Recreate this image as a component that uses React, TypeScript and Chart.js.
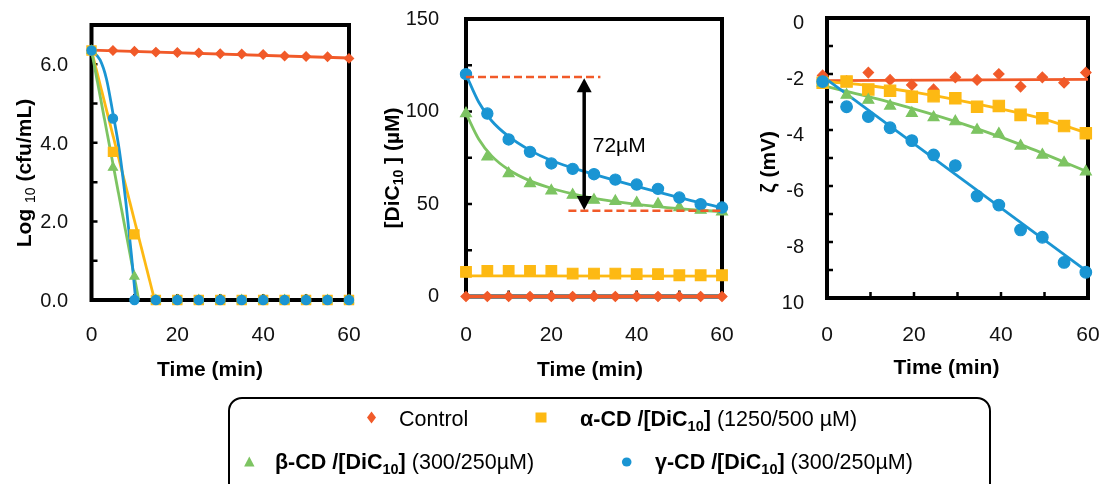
import React, { useEffect, useRef } from "react";
import { Chart, registerables } from "chart.js";

Chart.register(...registerables);

const FONT = '"Liberation Sans", Arial, Helvetica, sans-serif';
const RED = "#F15A29";
const YELLOW = "#FDB913";
const GREEN = "#7DC462";
const BLUE = "#1A95D3";

// ---------- Panel A : Log10 (cfu/mL) ----------
const timeA = [0, 5, 10, 15, 20, 25, 30, 35, 40, 45, 50, 55, 60];
const logControl = [6.35, 6.35, 6.33, 6.31, 6.3, 6.29, 6.27, 6.26, 6.25, 6.21, 6.2, 6.19, 6.15];
const logAlpha = [6.35, 3.77, 1.67, 0, 0, 0, 0, 0, 0, 0, 0, 0, 0];
const logBeta = [6.35, 3.37, 0.6, 0, 0, 0, 0, 0, 0, 0, 0, 0, 0];
const logGamma = [6.35, 4.62, 0, 0, 0, 0, 0, 0, 0, 0, 0, 0, 0];
const logFitControlT = [0, 60];
const logFitControl = [6.36, 6.16];
const logFitAlphaT = [0, 14.7];
const logFitAlpha = [6.35, 0];
const logFitBetaT = [0, 11];
const logFitBeta = [6.35, 0];
const logFitGammaT = [0, 2, 3.5, 5, 6.5, 8, 9.3, 10.3];
const logFitGamma = [6.35, 6.11, 5.62, 4.75, 3.8, 2.5, 1.15, 0];
const yTicksA = [0, 2, 4, 6];
const yTickLabelsA = ["0.0", "2.0", "4.0", "6.0"];
const yMinorA = [1, 2, 3, 4, 5, 6];

// ---------- Panel B : [DiC10] (µM) ----------
const timeB = [0, 5, 10, 15, 20, 25, 30, 35, 40, 45, 50, 55, 60];
const dicControl = [0, 0, 0, 0, 0, 0, 0, 0, 0, 0, 0, 0, 0];
const dicAlpha = [13.3, 13.9, 13.9, 13.9, 13.9, 12.4, 12.4, 12.4, 12.1, 12.1, 11.5, 11.5, 11.5];
const dicBeta = [98.9, 75.5, 66.5, 61.1, 57.1, 54.8, 52.1, 51.5, 50.6, 49.9, 48.1, 46.7, 45.8];
const dicGamma = [120.2, 98.9, 84.9, 78.2, 71.9, 69.0, 66.1, 63.2, 60.5, 58.2, 53.5, 49.9, 48.1];
const dicFitT = [0, 3, 6, 10, 15, 20, 25, 30, 40, 50, 60];
const dicFitGamma = [120, 105, 95, 86.5, 79, 73.5, 69.5, 66, 59.5, 53.5, 48];
const dicFitBeta = [99, 85, 76, 68.5, 62.5, 58.5, 55.5, 53, 49.8, 47.5, 45.8];
const dicFitAlphaT = [0, 60];
const dicFitAlpha = [11.2, 11.0];
const dicFitControlT = [0, 60];
const dicFitControl = [0, 0];
const refUpperT = [0, 31.5];
const refUpper = [118.7, 118.7];
const refLowerT = [24, 60.5];
const refLower = [46.3, 46.3];
const arrowT = 27.7;
const arrowTop = 118;
const arrowBottom = 46.8;
const deltaLabel = "72µM";
const deltaLabelT = 29.7;
const deltaLabelV = 81.4;
const yTicksB = [0, 50, 100, 150];
const yTickLabelsB = ["0", "50", "100", "150"];
const yMinorB = [25, 50, 75, 100, 125];

// ---------- Panel C : zeta (mV) ----------
const timeC = [-1, 4.5, 9.5, 14.5, 19.5, 24.5, 29.5, 34.5, 39.5, 44.5, 49.5, 54.5, 59.5];
const zetaControl = [-2.05, -2.25, -1.95, -2.21, -2.39, -2.55, -2.12, -2.21, -2.0, -2.45, -2.12, -2.31, -1.95];
const zetaAlpha = [-2.31, -2.27, -2.55, -2.6, -2.81, -2.79, -2.87, -3.17, -3.14, -3.46, -3.58, -3.86, -4.12];
const zetaBeta = [-2.31, -2.75, -2.93, -3.14, -3.4, -3.55, -3.7, -4.0, -4.14, -4.57, -4.89, -5.17, -5.49];
const zetaGamma = [-2.27, -3.17, -3.52, -3.92, -4.38, -4.89, -5.27, -6.36, -6.68, -7.57, -7.83, -8.73, -9.08];
const zetaFitControlT = [0, 60];
const zetaFitControl = [-2.24, -2.19];
const zetaFitAlphaT = [0, 10, 20, 30, 40, 50, 60];
const zetaFitAlpha = [-2.27, -2.42, -2.65, -2.93, -3.25, -3.62, -4.12];
const zetaFitBetaT = [0, 15, 30, 45, 60];
const zetaFitBeta = [-2.45, -3.03, -3.72, -4.55, -5.5];
const zetaFitGammaT = [0, 60];
const zetaFitGamma = [-2.2, -9.08];
const yTicksC = [0, -2, -4, -6, -8, -10];
const yTickLabelsC = ["0", "-2", "-4", "-6", "-8", "10"];
const yMinorC = [-1, -2, -3, -4, -5, -6, -7, -8, -9];

// ---------- shared x axis ----------
const xTicks = [0, 20, 40, 60];
const xTickLabels = ["0", "20", "40", "60"];
const xMinor = [10, 20, 30, 40, 50];

const pts = (xs: number[], ys: number[]) => xs.map((x, i) => ({ x, y: ys[i] }));

function markers(label: string, xs: number[], ys: number[], color: string, style: string, radius: number, order: number) {
  return {
    label,
    data: pts(xs, ys),
    showLine: false,
    pointStyle: style,
    pointRadius: radius,
    pointHoverRadius: radius,
    pointBackgroundColor: color,
    pointBorderColor: color,
    pointBorderWidth: 1.2,
    backgroundColor: color,
    borderColor: color,
    clip: false,
    order,
  };
}

function fitLine(xs: number[], ys: number[], color: string, order: number, dash: number[] = [], width = 2.8) {
  return {
    label: "fit",
    data: pts(xs, ys),
    showLine: true,
    pointRadius: 0,
    pointHoverRadius: 0,
    borderColor: color,
    backgroundColor: color,
    borderWidth: width,
    borderDash: dash,
    cubicInterpolationMode: xs.length > 2 ? "monotone" : "default",
    clip: false,
    fill: false,
    order,
  };
}

type Seg = { text: string; font: string; dy?: number };
type PanelDef = {
  canvas: { x: number; w: number; h: number };
  plot: { l: number; t: number; r: number; b: number };
  datasets: any[];
  yMin: number;
  yMax: number;
  yTicks: number[];
  yTickLabels: string[];
  yMinor: number[];
  yLabelGap: number;
  yLabelOffset: number;
  xLabelPad: number;
  yTitle: Seg[];
  yTitlePos: [number, number];
  xTitlePos: [number, number];
  extra?: (chart: any) => void;
};

const B21 = `bold 21px ${FONT}`;
const SUB = `14px ${FONT}`;
const SUBB = `bold 14px ${FONT}`;

function drawRotated(ctx: CanvasRenderingContext2D, segs: Seg[], cx: number, cy: number) {
  ctx.save();
  ctx.translate(cx, cy);
  ctx.rotate(-Math.PI / 2);
  let total = 0;
  for (const s of segs) {
    ctx.font = s.font;
    total += ctx.measureText(s.text).width;
  }
  let x = -total / 2;
  ctx.textAlign = "left";
  ctx.textBaseline = "alphabetic";
  ctx.fillStyle = "#000";
  for (const s of segs) {
    ctx.font = s.font;
    ctx.fillText(s.text, x, 7.5 + (s.dy || 0));
    x += ctx.measureText(s.text).width;
  }
  ctx.restore();
}

function makeConfig(p: PanelDef) {
  const plugin = {
    id: "frame",
    beforeDatasetsDraw(chart: any) {
      const { ctx, chartArea: a, scales } = chart;
      const x = scales.x;
      const y = scales.y;
      ctx.save();
      ctx.strokeStyle = "#000";
      ctx.lineWidth = 2.5;
      ctx.beginPath();
      for (const v of xMinor) {
        const px = x.getPixelForValue(v);
        ctx.moveTo(px, a.bottom);
        ctx.lineTo(px, a.bottom - 6);
      }
      for (const v of p.yMinor) {
        const py = y.getPixelForValue(v);
        ctx.moveTo(a.left, py);
        ctx.lineTo(a.left + 6, py);
      }
      ctx.stroke();
      ctx.lineWidth = 4;
      ctx.strokeRect(a.left, a.top, a.right - a.left, a.bottom - a.top);
      ctx.restore();
    },
    afterDatasetsDraw(chart: any) {
      if (p.extra) p.extra(chart);
    },
    afterDraw(chart: any) {
      const ctx = chart.ctx as CanvasRenderingContext2D;
      drawRotated(ctx, p.yTitle, p.yTitlePos[0] - p.canvas.x, p.yTitlePos[1]);
      ctx.save();
      ctx.font = B21;
      ctx.fillStyle = "#000";
      ctx.textAlign = "center";
      ctx.textBaseline = "alphabetic";
      ctx.fillText("Time (min)", p.xTitlePos[0] - p.canvas.x, p.xTitlePos[1] + 7.5);
      ctx.restore();
    },
  };
  return {
    type: "scatter" as const,
    data: { datasets: p.datasets },
    plugins: [plugin],
    options: {
      responsive: false,
      animation: false as const,
      events: [],
      layout: {
        padding: { top: p.plot.t, right: p.canvas.x + p.canvas.w - p.plot.r, left: 0, bottom: 0 },
      },
      plugins: { legend: { display: false }, title: { display: false }, tooltip: { enabled: false } },
      scales: {
        x: {
          type: "linear",
          position: "bottom",
          min: 0,
          max: 60,
          grid: { display: false },
          border: { display: false },
          afterBuildTicks: (s: any) => {
            s.ticks = xTicks.map((v) => ({ value: v }));
          },
          afterFit: (s: any) => {
            s.height = p.canvas.h - p.plot.b;
            s.paddingLeft = 0;
            s.paddingRight = 0;
          },
          ticks: {
            autoSkip: false,
            maxRotation: 0,
            padding: p.xLabelPad,
            color: "#111",
            font: { family: FONT, size: 21 },
            callback: (v: number) => xTickLabels[xTicks.indexOf(v)],
          },
        },
        y: {
          type: "linear",
          position: "left",
          min: p.yMin,
          max: p.yMax,
          grid: { display: false },
          border: { display: false },
          afterBuildTicks: (s: any) => {
            s.ticks = p.yTicks.map((v) => ({ value: v }));
          },
          afterFit: (s: any) => {
            s.width = p.plot.l - p.canvas.x;
            s.paddingTop = 0;
            s.paddingBottom = 0;
          },
          ticks: {
            autoSkip: false,
            padding: p.yLabelGap,
            labelOffset: p.yLabelOffset,
            color: "#111",
            font: { family: FONT, size: 20 },
            callback: (v: number) => p.yTickLabels[p.yTicks.indexOf(v)],
          },
        },
      },
    },
  };
}

const panelA: PanelDef = {
  canvas: { x: 0, w: 370, h: 395 },
  plot: { l: 91.5, t: 25, r: 349, b: 300 },
  datasets: [
    markers("γ-CD", timeA, logGamma, BLUE, "circle", 4.6, 0),
    markers("β-CD", timeA, logBeta, GREEN, "triangle", 5.2, 1),
    markers("α-CD", timeA, logAlpha, YELLOW, "rect", 6.5, 2),
    markers("Control", timeA, logControl, RED, "rectRot", 4.6, 3),
    fitLine(logFitGammaT, logFitGamma, BLUE, 4),
    fitLine(logFitBetaT, logFitBeta, GREEN, 5),
    fitLine(logFitAlphaT, logFitAlpha, YELLOW, 6),
    fitLine(logFitControlT, logFitControl, RED, 7),
  ],
  yMin: 0,
  yMax: 7,
  yTicks: yTicksA,
  yTickLabels: yTickLabelsA,
  yMinor: yMinorA,
  yLabelGap: 15.5,
  yLabelOffset: 1.5,
  xLabelPad: 15,
  yTitle: [
    { text: "Log ", font: B21 },
    { text: "10", font: SUB, dy: 4 },
    { text: " (cfu/mL)", font: B21 },
  ],
  yTitlePos: [23, 173],
  xTitlePos: [210, 368.5],
};

const panelB: PanelDef = {
  canvas: { x: 370, w: 370, h: 395 },
  plot: { l: 466, t: 19, r: 722, b: 296.5 },
  datasets: [
    markers("γ-CD", timeB, dicGamma, BLUE, "circle", 5.6, 0),
    markers("β-CD", timeB, dicBeta, GREEN, "triangle", 6.3, 1),
    markers("α-CD", timeB, dicAlpha, YELLOW, "rect", 7.5, 2),
    markers("Control", timeB, dicControl, RED, "rectRot", 5, 3),
    fitLine(dicFitT, dicFitGamma, BLUE, 4),
    fitLine(dicFitT, dicFitBeta, GREEN, 5),
    fitLine(dicFitAlphaT, dicFitAlpha, YELLOW, 6),
    fitLine(dicFitControlT, dicFitControl, RED, 7),
    fitLine(refUpperT, refUpper, RED, -1, [8, 4], 2.5),
    fitLine(refLowerT, refLower, RED, -1, [8, 4], 2.5),
  ],
  yMin: 0,
  yMax: 150,
  yTicks: yTicksB,
  yTickLabels: yTickLabelsB,
  yMinor: yMinorB,
  yLabelGap: 19,
  yLabelOffset: 0,
  xLabelPad: 18.5,
  yTitle: [
    { text: "[DiC", font: B21 },
    { text: "10", font: SUBB, dy: 4 },
    { text: " ] (µM)", font: B21 },
  ],
  yTitlePos: [391, 168],
  xTitlePos: [590, 368.5],
  extra: (chart: any) => {
    const { ctx, scales } = chart;
    const x = scales.x;
    const y = scales.y;
    const ax = x.getPixelForValue(arrowT);
    const y1 = y.getPixelForValue(arrowTop);
    const y2 = y.getPixelForValue(arrowBottom);
    ctx.save();
    ctx.strokeStyle = "#000";
    ctx.fillStyle = "#000";
    ctx.lineWidth = 3.5;
    ctx.beginPath();
    ctx.moveTo(ax, y1 + 10);
    ctx.lineTo(ax, y2 - 10);
    ctx.stroke();
    ctx.beginPath();
    ctx.moveTo(ax, y1);
    ctx.lineTo(ax - 7.5, y1 + 14);
    ctx.lineTo(ax + 7.5, y1 + 14);
    ctx.closePath();
    ctx.fill();
    ctx.beginPath();
    ctx.moveTo(ax, y2);
    ctx.lineTo(ax - 7.5, y2 - 14);
    ctx.lineTo(ax + 7.5, y2 - 14);
    ctx.closePath();
    ctx.fill();
    ctx.font = `21px ${FONT}`;
    ctx.textAlign = "left";
    ctx.textBaseline = "middle";
    ctx.fillText(deltaLabel, x.getPixelForValue(deltaLabelT), y.getPixelForValue(deltaLabelV));
    ctx.restore();
  },
};

const panelC: PanelDef = {
  canvas: { x: 740, w: 368, h: 395 },
  plot: { l: 827, t: 18, r: 1088, b: 298 },
  datasets: [
    markers("γ-CD", timeC, zetaGamma, BLUE, "circle", 5.8, 0),
    markers("β-CD", timeC, zetaBeta, GREEN, "triangle", 6.3, 1),
    markers("α-CD", timeC, zetaAlpha, YELLOW, "rect", 8, 2),
    markers("Control", timeC, zetaControl, RED, "rectRot", 5.2, 3),
    fitLine(zetaFitGammaT, zetaFitGamma, BLUE, 4),
    fitLine(zetaFitBetaT, zetaFitBeta, GREEN, 5),
    fitLine(zetaFitAlphaT, zetaFitAlpha, YELLOW, 6),
    fitLine(zetaFitControlT, zetaFitControl, RED, 7),
  ],
  yMin: -10,
  yMax: 0,
  yTicks: yTicksC,
  yTickLabels: yTickLabelsC,
  yMinor: yMinorC,
  yLabelGap: 15,
  yLabelOffset: 5,
  xLabelPad: 17,
  yTitle: [{ text: "ζ (mV)", font: B21 }],
  yTitlePos: [767, 162],
  xTitlePos: [946.5, 366.5],
};

function ChartPanel({ def }: { def: PanelDef }) {
  const ref = useRef<HTMLCanvasElement>(null);
  useEffect(() => {
    const chart = new Chart(ref.current as HTMLCanvasElement, makeConfig(def) as any);
    return () => chart.destroy();
  }, [def]);
  return (
    <canvas
      ref={ref}
      width={def.canvas.w}
      height={def.canvas.h}
      style={{ position: "absolute", left: def.canvas.x, top: 0, width: def.canvas.w, height: def.canvas.h }}
    />
  );
}

const legendText: React.CSSProperties = {
  position: "absolute",
  fontFamily: FONT,
  fontSize: 21.5,
  lineHeight: "24px",
  whiteSpace: "nowrap",
  color: "#000",
};
const subStyle: React.CSSProperties = { fontSize: 14.5, position: "relative", top: 5 };

function Legend() {
  return (
    <>
      <div
        style={{
          position: "absolute",
          left: 228,
          top: 397,
          width: 763,
          height: 110,
          border: "2.5px solid #000",
          borderRadius: 14,
          boxSizing: "border-box",
        }}
      />
      <svg style={{ position: "absolute", left: 0, top: 0 }} width={1108} height={484}>
        <polygon points="371.5,411.5 376,417.5 371.5,423.5 367,417.5" fill={RED} />
        <rect x={535.5} y={412.5} width={11} height={10} fill={YELLOW} />
        <polygon points="249.3,456.5 254.5,466.5 244.1,466.5" fill={GREEN} />
        <ellipse cx={626.7} cy={462} rx={4.8} ry={4.5} fill={BLUE} />
      </svg>
      <span style={{ ...legendText, left: 399, top: 407 }}>Control</span>
      <span style={{ ...legendText, left: 580, top: 407 }}>
        <b>
          α-CD /[DiC<span style={subStyle}>10</span>]
        </b>{" "}
        (1250/500 µM)
      </span>
      <span style={{ ...legendText, left: 275, top: 450 }}>
        <b>
          β-CD /[DiC<span style={subStyle}>10</span>]
        </b>{" "}
        (300/250µM)
      </span>
      <span style={{ ...legendText, left: 655, top: 450 }}>
        <b>
          γ-CD /[DiC<span style={subStyle}>10</span>]
        </b>{" "}
        (300/250µM)
      </span>
    </>
  );
}

export default function App() {
  return (
    <div
      style={{
        position: "absolute",
        left: 0,
        top: 0,
        width: 1108,
        height: 484,
        overflow: "hidden",
        background: "#fff",
      }}
    >
      <ChartPanel def={panelA} />
      <ChartPanel def={panelB} />
      <ChartPanel def={panelC} />
      <Legend />
    </div>
  );
}
